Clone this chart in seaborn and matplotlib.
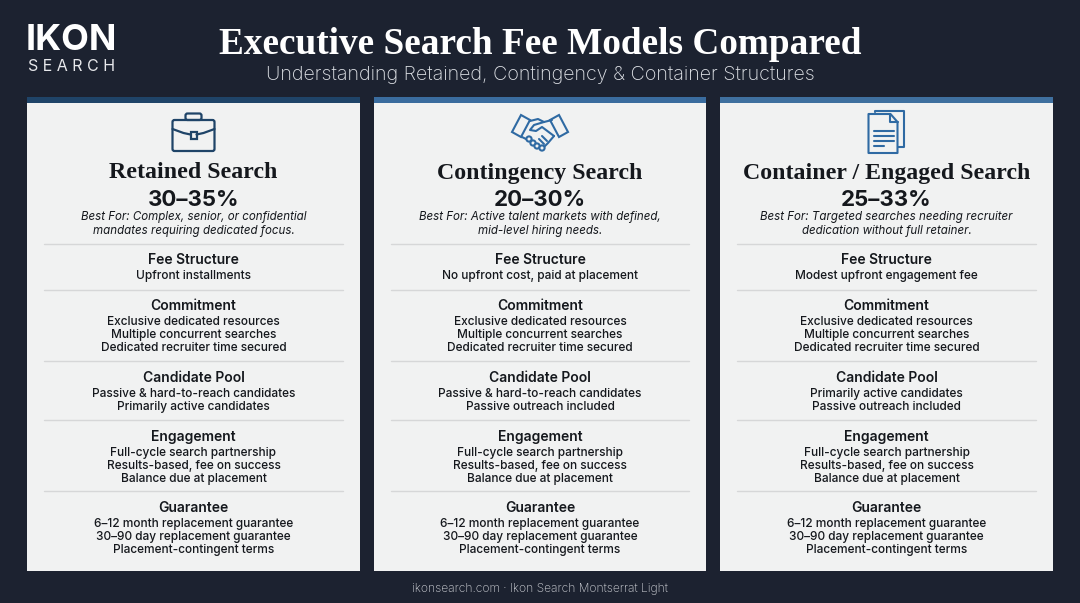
import matplotlib
matplotlib.use('Agg')
import matplotlib.pyplot as plt
from matplotlib.patches import Rectangle, FancyBboxPatch, Polygon, Circle
import seaborn as sns

# --- text content ---
titles = ['Retained Search', 'Contingency Search', 'Container / Engaged Search']
fees = ['30–35%', '20–30%', '25–33%']
best_for = [
    'Best For: Complex, senior, or confidential\nmandates requiring dedicated focus.',
    'Best For: Active talent markets with defined,\nmid-level hiring needs.',
    'Best For: Targeted searches needing recruiter\ndedication without full retainer.',
]
section_names = ['Fee Structure', 'Commitment', 'Candidate Pool', 'Engagement', 'Guarantee']
fee_structure = ['Upfront installments', 'No upfront cost, paid at placement', 'Modest upfront engagement fee']
commitment = ['Exclusive dedicated resources', 'Multiple concurrent searches', 'Dedicated recruiter time secured']
candidate_pool = [
    ['Passive & hard-to-reach candidates', 'Primarily active candidates'],
    ['Passive & hard-to-reach candidates', 'Passive outreach included'],
    ['Primarily active candidates', 'Passive outreach included'],
]
engagement = ['Full-cycle search partnership', 'Results-based, fee on success', 'Balance due at placement']
guarantee = ['6–12 month replacement guarantee', '30–90 day replacement guarantee', 'Placement-contingent terms']

# --- layout in pixels ---
BG = '#1c2230'
CARD = '#f1f2f2'
INK = '#15181d'
card_left = [27, 374, 720]
card_right = [360, 706, 1053]
band_colors = ['#1f4468', '#3a6c9e', '#3f709f']
icon_colors = ['#1f4468', '#2f6aa3', '#2f6aa3']
header_y = [260, 306, 378, 437, 508]
first_line_y = [276, 322, 394, 453, 524]
line_step = 13
rule_y = [244, 290, 361, 420, 491]

sns.set_theme(style='white')
plt.rcParams['font.family'] = ['Inter', 'DejaVu Sans']

fig, ax = plt.subplots(figsize=(10.8, 6.03), dpi=100)
fig.patch.set_facecolor(BG)
ax.set_position([0, 0, 1, 1])
ax.set_facecolor(BG)
ax.set_xlim(0, 1080)
ax.set_ylim(603, 0)
ax.set_xticks([])
ax.set_yticks([])
sns.despine(ax=ax, left=True, bottom=True)


def briefcase(cx, color):
    ax.add_patch(FancyBboxPatch((cx - 21, 120), 42, 31, boxstyle='round,pad=0,rounding_size=2',
                                fc='none', ec=color, lw=1.6))
    ax.add_patch(FancyBboxPatch((cx - 8, 113.5), 16, 6.5, boxstyle='round,pad=0,rounding_size=2',
                                fc='none', ec=color, lw=1.6))
    ax.plot([cx - 21, cx - 10, cx - 3], [129, 133, 134.5], color=color, lw=1.6)
    ax.plot([cx + 3, cx + 10, cx + 21], [134.5, 133, 129], color=color, lw=1.6)
    ax.add_patch(Rectangle((cx - 3, 132), 6, 7, fc='none', ec=color, lw=1.6))


def handshake(cx, color):
    lw = 1.5
    ax.add_patch(Polygon([(cx - 28, 132), (cx - 19, 115), (cx - 10, 120), (cx - 19, 137)],
                         fc='none', ec=color, lw=lw))
    ax.add_patch(Polygon([(cx + 28, 132), (cx + 19, 115), (cx + 10, 120), (cx + 19, 137)],
                         fc='none', ec=color, lw=lw))
    ax.plot([cx - 10, cx - 2, cx + 4, cx + 12], [121, 119, 122, 120], color=color, lw=lw)
    ax.plot([cx + 4, cx - 6, cx - 10, cx - 4, cx + 2, cx + 14],
            [122, 125, 130, 131, 127, 136], color=color, lw=lw)
    ax.plot([cx - 18, cx - 12], [137, 140], color=color, lw=lw)
    ax.plot([cx + 14, cx + 8, cx + 3], [136, 143, 148], color=color, lw=lw)
    for dx, dy in [(-11, 139), (-7, 143), (-3, 146), (2, 148)]:
        ax.add_patch(Circle((cx + dx, dy), 2.6, fc=CARD, ec=color, lw=lw, zorder=3))
    ax.plot([cx + 2, cx + 7], [136, 141], color=color, lw=lw)
    ax.plot([cx - 1, cx + 4], [139, 144], color=color, lw=lw)


def documents(cx, color):
    lw = 1.5
    ax.plot([cx - 12, cx - 12, cx + 17, cx + 17, cx + 11], [112, 111, 111, 147, 147],
            color=color, lw=lw)
    ax.add_patch(Polygon([(cx - 18, 114), (cx + 4, 114), (cx + 11, 122), (cx + 11, 153), (cx - 18, 153)],
                         fc=CARD, ec=color, lw=lw, joinstyle='round'))
    ax.plot([cx + 3, cx + 3, cx + 11], [114, 122, 122], color=color, lw=lw)
    for y, half in [(131, 1), (136, 1), (141, 1), (146, 0.5)]:
        ax.plot([cx - 13, cx - 13 + 20 * half], [y, y], color=color, lw=lw)


# --- header ---
ax.text(26, 41, 'IKON', color='white', fontsize=26, fontweight='bold', family='Inter',
        va='center', ha='left')
ax.text(71.5, 66.5, 'S E A R C H', color='#e8e9ec', fontsize=11.5, family='Inter', va='center', ha='center')
ax.text(540, 44, 'Executive Search Fee Models Compared', color='white', fontsize=26.8,
        fontweight='bold', family='Liberation Serif', va='center', ha='center')
ax.text(540, 75, 'Understanding Retained, Contingency & Container Structures', color='#dfe2e7',
        fontsize=14.2, fontweight='light', va='center', ha='center')

# --- cards ---
icons = [briefcase, handshake, documents]
for i, (left, right) in enumerate(zip(card_left, card_right)):
    cx = (left + right) / 2
    ax.add_patch(Rectangle((left, 103), right - left, 468, fc=CARD, ec='none'))
    ax.add_patch(Rectangle((left, 97), right - left, 6, fc=band_colors[i], ec='none'))
    icons[i](cx, icon_colors[i])

    ax.text(cx, 173, titles[i], color=INK, fontsize=17.2, fontweight='bold',
            family='Liberation Serif', va='center', ha='center')
    ax.text(cx, 200, fees[i], color=INK, fontsize=16, fontweight='bold', va='center', ha='center')
    ax.text(cx, 224, best_for[i], color=INK, fontsize=8.3, fontstyle='italic', va='center',
            ha='center', linespacing=1.12)

    sections = [[fee_structure[i]], commitment, candidate_pool[i], engagement, guarantee]
    for name, lines, hy, ly, ry in zip(section_names, sections, header_y, first_line_y, rule_y):
        ax.plot([left + 17, right - 17], [ry, ry], color='#d6d7d8', lw=1)
        ax.text(cx, hy, name, color=INK, fontsize=10, fontweight='semibold', va='center', ha='center')
        for k, line in enumerate(lines):
            ax.text(cx, ly + k * line_step, line, color=INK, fontsize=8.55, fontweight='medium',
                    va='center', ha='center')

# --- footer ---
ax.text(540, 589, 'ikonsearch.com · Ikon Search Montserrat Light', color='#d4d6db', fontsize=8.6,
        fontweight='light', va='center', ha='center')

fig.savefig('out.png', dpi=100, facecolor=BG)
